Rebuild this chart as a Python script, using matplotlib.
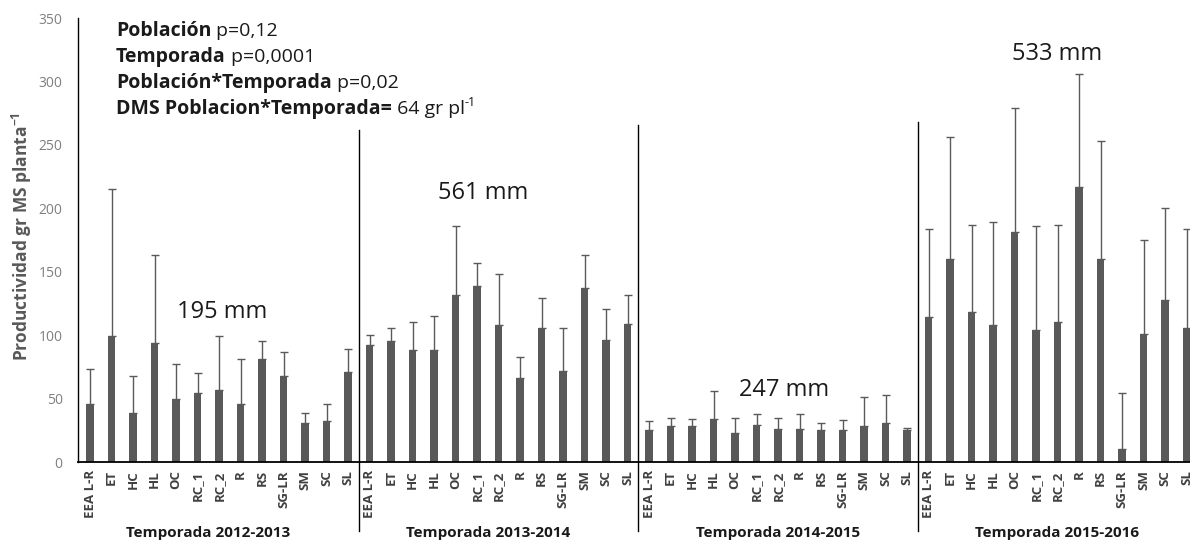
import matplotlib
matplotlib.use("Agg")
import matplotlib.pyplot as plt
import numpy as np

plt.rcParams['font.family'] = ['Open Sans', 'DejaVu Sans']
plt.rcParams['mathtext.default'] = 'regular'

# ---------------- data ----------------
populations = ["EEA L-R", "ET", "HC", "HL", "OC", "RC_1", "RC_2", "R", "RS",
               "SG-LR", "SM", "SC", "SL"]
seasons = ["Temporada 2012-2013", "Temporada 2013-2014",
           "Temporada 2014-2015", "Temporada 2015-2016"]
rain_labels = ["195 mm", "561 mm", "247 mm", "533 mm"]

mean_2012 = [46, 99, 39, 94, 50, 54, 57, 46, 81, 68, 31, 32, 71]
top_2012 = [73, 215, 68, 163, 77, 70, 99, 81, 95, 87, 39, 46, 89]
mean_2013 = [92, 95, 88, 88, 132, 139, 108, 66, 106, 72, 137, 96, 109]
top_2013 = [100, 106, 110, 115, 186, 157, 148, 83, 129, 106, 163, 121, 132]
mean_2014 = [25, 28, 28, 34, 23, 29, 26, 26, 25, 25, 28, 31, 25]
top_2014 = [32, 35, 34, 56, 35, 38, 35, 38, 31, 33, 51, 53, 27]
mean_2015 = [114, 160, 118, 108, 181, 104, 110, 217, 160, 10, 101, 128, 106]
top_2015 = [184, 256, 187, 189, 279, 186, 187, 306, 253, 54, 175, 200, 184]

means = [mean_2012, mean_2013, mean_2014, mean_2015]
tops = [top_2012, top_2013, top_2014, top_2015]

stats_bold = ["Población", "Temporada", "Población*Temporada", "DMS Poblacion*Temporada="]
stats_norm = [" p=0,12", " p=0,0001", " p=0,02", " 64 gr pl"]

# ---------------- figure ----------------
W, H = 1190, 540
fig = plt.figure(figsize=(W / 100, H / 100), dpi=100)
fig.patch.set_facecolor("white")

ax_left_px, ax_bottom_px, ax_top_px = 78, 462, 18
xmin, xmax = -0.56, 51.6
step_px = 21.5
ax_w_px = (xmax - xmin) * step_px
ax = fig.add_axes([ax_left_px / W, (H - ax_bottom_px) / H,
                   ax_w_px / W, (ax_bottom_px - ax_top_px) / H])

bar_color = "#595959"
n = len(populations)
all_means = np.concatenate(means)
all_tops = np.concatenate(tops)
x = np.arange(len(all_means))
labels = populations * len(seasons)

ax.bar(x, all_means, width=0.34, color=bar_color, zorder=2)
ax.errorbar(x, all_means, yerr=[np.zeros_like(all_means), all_tops - all_means],
            fmt="none", ecolor="#5a5a5a", elinewidth=1.0, capsize=3.2,
            capthick=1.0, zorder=3)

ax.set_xlim(xmin, xmax)
ax.set_ylim(0, 350)
ax.set_yticks(np.arange(0, 351, 50))
ax.tick_params(axis="y", length=0, pad=11, labelsize=10, labelcolor="#7f7f7f")
ax.set_xticks(x)
ax.set_xticklabels(labels, rotation=90, fontsize=9.5, fontweight="bold",
                   color="#404040")
ax.tick_params(axis="x", length=0, pad=6)

for s in ["top", "right"]:
    ax.spines[s].set_visible(False)
ax.spines["left"].set_color("black")
ax.spines["left"].set_linewidth(1.0)
ax.spines["bottom"].set_color("black")
ax.spines["bottom"].set_linewidth(1.3)

# season separators
sep_tops = [262, 266, 268]
for k, t in enumerate(sep_tops):
    xs = (k + 1) * n - 0.5
    ax.plot([xs, xs], [-54, t], color="black", lw=1.0, clip_on=False, zorder=4)

# season labels
season_off = [-0.5, -0.5, 0.0, 0.0]
for k, s in enumerate(seasons):
    xc = k * n + (n - 1) / 2 + season_off[k]
    ax.text(xc, -56, s, ha="center", va="center", fontsize=11,
            fontweight="bold", color="#1a1a1a", clip_on=False)

# rainfall labels
rain_pos = [(6.14, 118), (18.28, 212), (32.3, 57), (45.0, 322)]
for (px_, py_), lab in zip(rain_pos, rain_labels):
    ax.text(px_, py_, lab, ha="center", va="center", fontsize=17,
            color="#1a1a1a")

# y label
fig.text(22 / W, (H - 236) / H, "Productividad gr MS planta$^{-1}$",
         rotation=90, ha="center", va="center", fontsize=12.5,
         fontweight="bold", color="#595959")

# statistics text block
renderer = fig.canvas.get_renderer()
baselines = [36, 62, 88, 114]
for b, nrm, yb in zip(stats_bold, stats_norm, baselines):
    yf = (H - yb) / H
    t1 = fig.text(116 / W, yf, b, fontsize=14, fontweight="bold",
                  color="#1a1a1a", va="baseline")
    x1 = t1.get_window_extent(renderer).x1
    t2 = fig.text(x1 / W, yf, nrm, fontsize=14, color="#1a1a1a",
                  va="baseline")
    if b.startswith("DMS"):
        x2 = t2.get_window_extent(renderer).x1
        fig.text(x2 / W, yf + 8 / H, "-1", fontsize=9, color="#1a1a1a",
                 va="baseline")

fig.savefig("out.png", dpi=100, facecolor="white")
